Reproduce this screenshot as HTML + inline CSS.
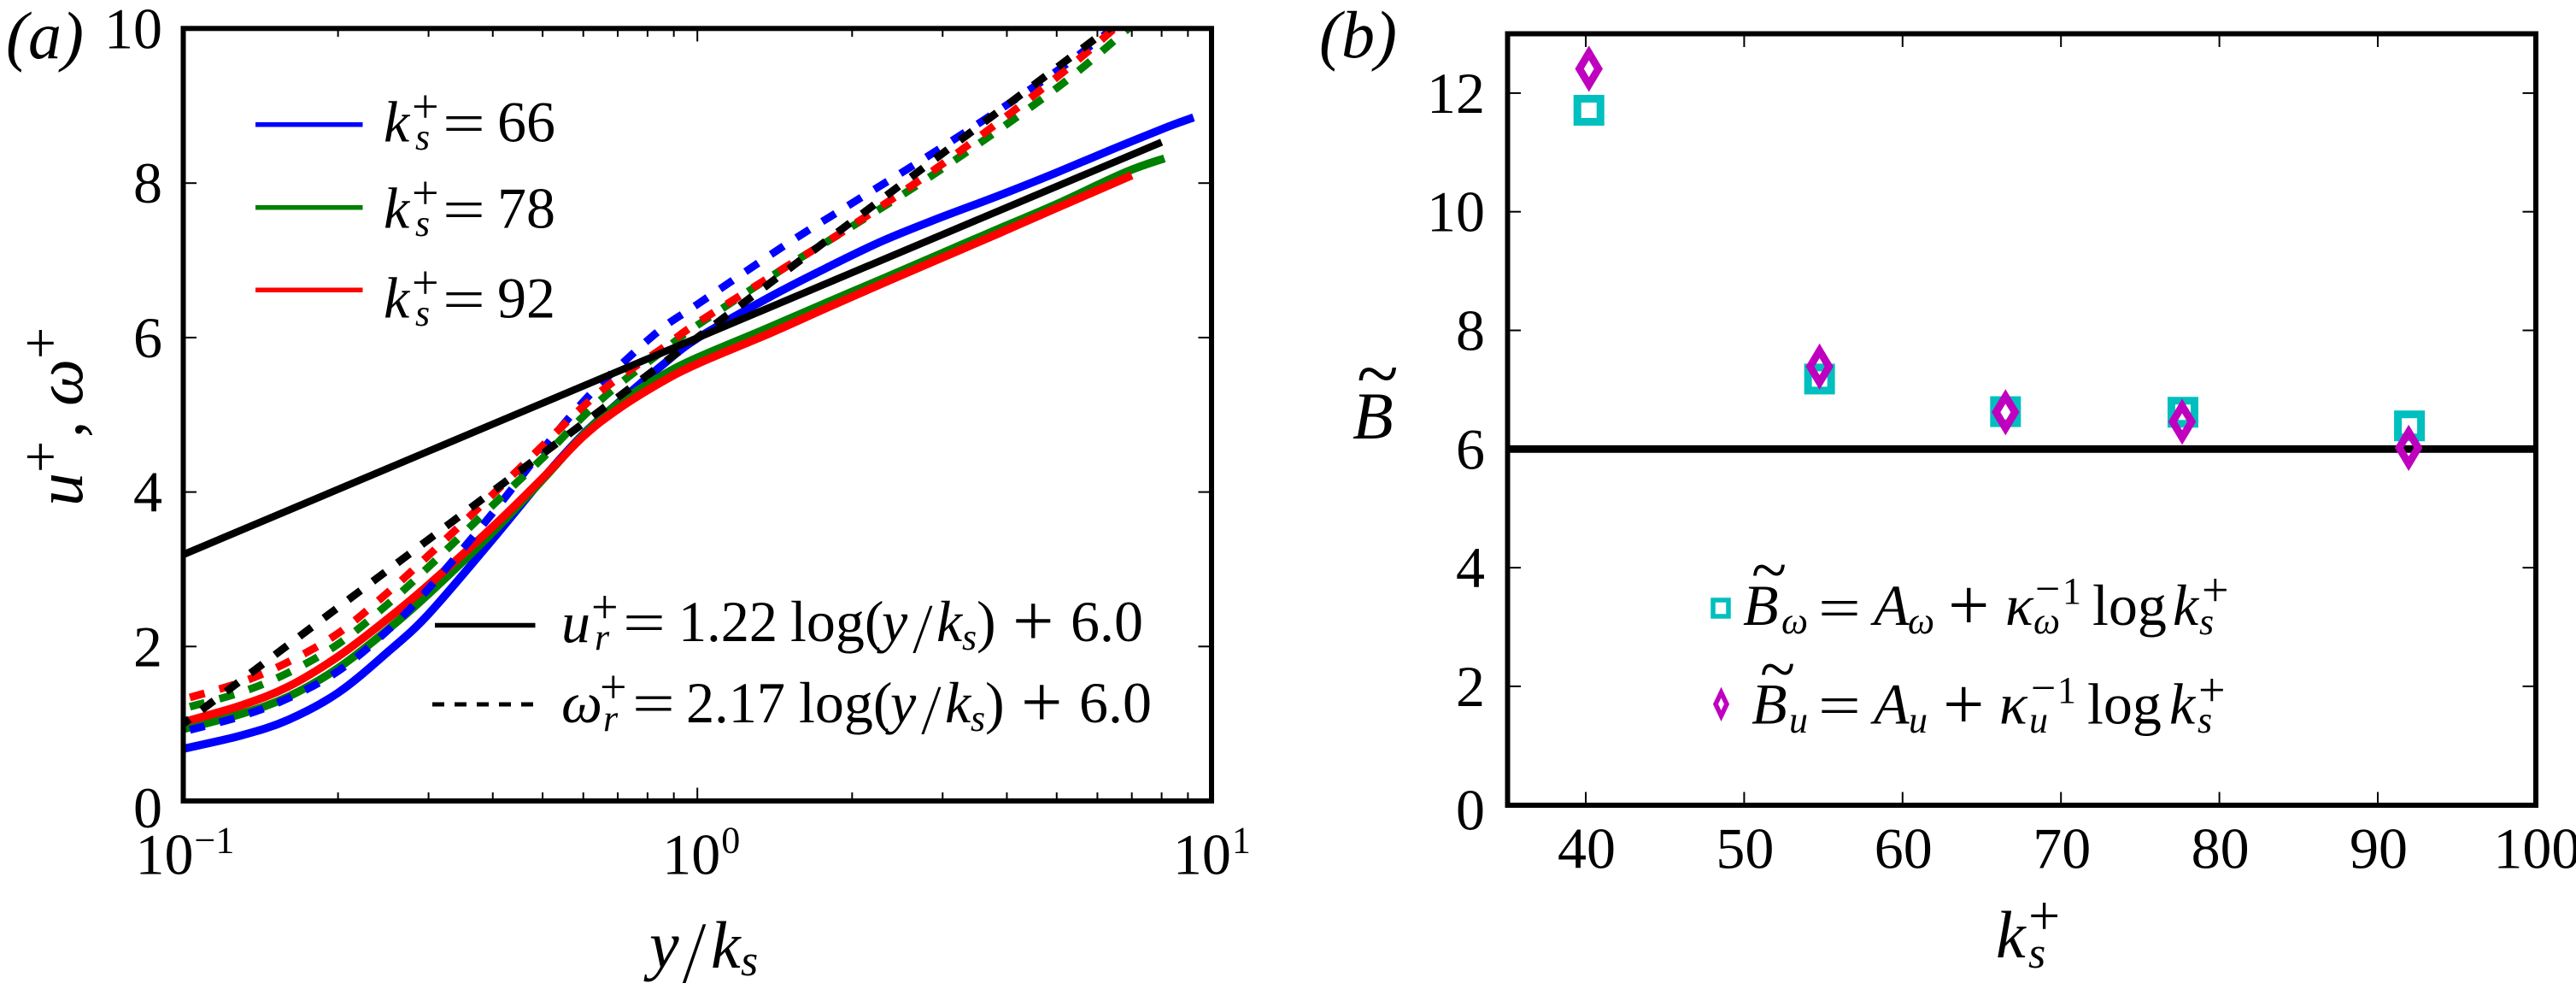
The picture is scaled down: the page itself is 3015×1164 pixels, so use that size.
<!DOCTYPE html>
<html lang="en">
<head>
<meta charset="utf-8">
<title>Velocity and vorticity log-law profiles</title>
<style>
html,body{margin:0;padding:0;background:#fff;}
svg{display:block;font-family:"Liberation Serif","DejaVu Serif",serif;fill:#000;}
.i{font-style:italic;}
</style>
</head>
<body>
<svg id="fig" xmlns="http://www.w3.org/2000/svg" width="3015" height="1164" viewBox="0 0 3015 1164">
<defs>
<clipPath id="clip-a"><rect x="214" y="33" width="1204" height="904"/></clipPath>
</defs>
<rect width="3015" height="1164" fill="#fff"/>

<text class="i" x="7" y="68" font-size="78">(a)</text>
<text class="i" x="1544" y="67" font-size="78">(b)</text>

<g id="series-a" clip-path="url(#clip-a)"></g>
<g id="ticks-a"></g>
<rect x="214.5" y="33.3" width="1203.5" height="903.7" fill="none" stroke="#000" stroke-width="6"/>

<g id="ticks-b"></g>
<g id="series-b"></g>
<rect x="1764.5" y="39.5" width="1203.5" height="902.5" fill="none" stroke="#000" stroke-width="6"/>

<g>
<text class="i" font-size="78" transform="translate(96,592) rotate(-90)">u</text>
<text font-size="66" transform="translate(69,553) rotate(-90)">+</text>
<text font-size="78" transform="translate(96,512) rotate(-90)">,</text>
<text class="i" font-size="78" transform="translate(96,475) rotate(-90)">ω</text>
<text font-size="66" transform="translate(69,420) rotate(-90)">+</text>
</g>
<g>
<text class="i" font-size="78" x="760" y="1132">y</text>
<text class="i" font-size="78" transform="translate(802,1149) scale(0.88,1.32)">/</text>
<text class="i" font-size="78" x="832" y="1132">k</text>
<text class="i" font-size="52" x="867" y="1141">s</text>
</g>
<g>
<text class="i" font-size="78" x="1583" y="513">B</text>
<text font-size="90" x="1588" y="467">~</text>
</g>
<g>
<text class="i" font-size="78" x="2336" y="1120">k</text>
<text class="i" font-size="52" x="2374" y="1132">s</text>
<text font-size="66" x="2374" y="1093">+</text>
</g>

<g>
<g>
<line x1="299" x2="424.5" y1="145.7" y2="145.7" stroke="#00f" stroke-width="5.5"/>
<text class="i" font-size="68" x="449" y="165.5">k</text><text class="i" font-size="44" x="486" y="175">s</text><text font-size="56" x="482" y="143.5">+</text>
<text font-size="68" transform="translate(518,167) scale(1.3,1)">=</text><text font-size="68" x="582" y="165.5">66</text>
</g>
<g>
<line x1="299" x2="424.5" y1="242.7" y2="242.7" stroke="#008000" stroke-width="5.5"/>
<g transform="translate(0,101)"><text class="i" font-size="68" x="449" y="165.5">k</text><text class="i" font-size="44" x="486" y="175">s</text><text font-size="56" x="482" y="143.5">+</text>
<text font-size="68" transform="translate(518,167) scale(1.3,1)">=</text><text font-size="68" x="582" y="165.5">78</text></g>
</g>
<g>
<line x1="299" x2="424.5" y1="339.3" y2="339.3" stroke="#f00" stroke-width="5.5"/>
<g transform="translate(0,206)"><text class="i" font-size="68" x="449" y="165.5">k</text><text class="i" font-size="44" x="486" y="175">s</text><text font-size="56" x="482" y="143.5">+</text>
<text font-size="68" transform="translate(518,167) scale(1.3,1)">=</text><text font-size="68" x="582" y="165.5">92</text></g>
</g>
</g>

<g>
<g>
<line x1="509" x2="626.5" y1="731.5" y2="731.5" stroke="#000" stroke-width="5.5"/>
<text class="i" font-size="68" x="657" y="751">u</text><text font-size="56" x="692" y="729">+</text><text class="i" font-size="44" x="696" y="760">r</text>
<text font-size="68" transform="translate(729,751) scale(1.3,1)">=</text>
<text font-size="68" x="794" y="750" textLength="116" lengthAdjust="spacingAndGlyphs">1.22</text><text font-size="68" x="925" y="750">log(</text>
<text class="i" font-size="68" x="1032" y="750">y</text><text class="i" font-size="68" transform="translate(1071,763) scale(0.85,1.22)">/</text><text class="i" font-size="68" x="1096" y="750">k</text><text class="i" font-size="44" x="1126" y="760">s</text>
<text font-size="68" x="1143" y="750">)</text><text font-size="86" x="1185" y="755">+</text><text font-size="68" x="1253" y="750">6.0</text>
</g>
<g>
<line x1="506" x2="624.5" y1="824" y2="824" stroke="#000" stroke-width="5" stroke-dasharray="14 12"/>
<text class="i" font-size="68" x="657" y="845">ω</text><text font-size="56" x="702" y="822.5">+</text><text class="i" font-size="44" x="706" y="855">r</text>
<text font-size="68" transform="translate(740,845.5) scale(1.3,1)">=</text>
<text font-size="68" x="803" y="845" textLength="116" lengthAdjust="spacingAndGlyphs">2.17</text><text font-size="68" x="935" y="845">log(</text>
<text class="i" font-size="68" x="1042" y="845">y</text><text class="i" font-size="68" transform="translate(1081,858) scale(0.85,1.22)">/</text><text class="i" font-size="68" x="1106" y="845">k</text><text class="i" font-size="44" x="1136" y="855">s</text>
<text font-size="68" x="1153" y="845">)</text><text font-size="86" x="1195" y="850">+</text><text font-size="68" x="1263" y="845">6.0</text>
</g>
</g>

<g>
<g>
<rect x="2005" y="702" width="18" height="19" fill="none" stroke="#00bfbf" stroke-width="5.5"/>
<text class="i" font-size="68" x="2040" y="731">B</text><text font-size="76" x="2050" y="692">~</text><text class="i" font-size="44" x="2085" y="741">ω</text>
<text font-size="68" transform="translate(2128,734) scale(1.3,1)">=</text>
<text class="i" font-size="68" x="2193" y="731">A</text><text class="i" font-size="44" x="2233" y="741">ω</text>
<text font-size="86" x="2280" y="736.5">+</text>
<text class="i" font-size="68" x="2347" y="731">κ</text><text font-size="52" x="2382" y="706">−</text><text font-size="44" x="2414" y="706">1</text><text class="i" font-size="44" x="2380" y="741">ω</text>
<text font-size="68" x="2449" y="731">log</text><text class="i" font-size="68" x="2543" y="731">k</text><text class="i" font-size="44" x="2574" y="742">s</text><text font-size="56" x="2577" y="709">+</text>
</g>
<g>
<path d="M2014.5 810 L2021 823.7 L2014.5 837.5 L2008 823.7 Z" fill="none" stroke="#bf00bf" stroke-width="5.5" stroke-miterlimit="10"/>
<text class="i" font-size="68" x="2050" y="846.4">B</text><text font-size="76" x="2060" y="808">~</text><text class="i" font-size="44" x="2094" y="857">u</text>
<text font-size="68" transform="translate(2128,848) scale(1.3,1)">=</text>
<text class="i" font-size="68" x="2193" y="846.4">A</text><text class="i" font-size="44" x="2234" y="857">u</text>
<text font-size="86" x="2274" y="852.5">+</text>
<text class="i" font-size="68" x="2340" y="846.4">κ</text><text font-size="52" x="2377" y="822">−</text><text font-size="44" x="2408" y="822">1</text><text class="i" font-size="44" x="2375" y="857">u</text>
<text font-size="68" x="2443" y="846.4">log</text><text class="i" font-size="68" x="2539" y="846.4">k</text><text class="i" font-size="44" x="2572" y="857">s</text><text font-size="56" x="2573" y="826">+</text>
</g>
</g>

<script>
// ---- panel (a) data ----
const solidBlueX = [0.1,0.13,0.16,0.2,0.25,0.3,0.4,0.5,0.6,0.7,0.85,1,1.378,1.78,2.29,2.96,3.83,4.93,6.37,8.23,9.23];
const solidBlueY = [0.675,0.85,1.05,1.4,1.93,2.42,3.39,4.17,4.75,5.15,5.63,5.99,6.52,6.9,7.25,7.55,7.83,8.12,8.43,8.73,8.85];
const solidGreenX = [0.1,0.13,0.16,0.2,0.25,0.3,0.4,0.5,0.6,0.7,0.85,1,1.378,1.78,2.29,2.96,3.83,4.93,6.8,8.1];
const solidGreenY = [0.93,1.13,1.35,1.72,2.22,2.68,3.48,4.16,4.74,5.14,5.5,5.74,6.13,6.45,6.76,7.08,7.4,7.71,8.14,8.32];
const solidRedX = [0.1,0.13,0.16,0.2,0.25,0.3,0.4,0.5,0.6,0.7,0.85,1,1.378,1.78,2.29,2.96,3.83,4.93,7];
const solidRedY = [1.02,1.24,1.48,1.87,2.36,2.8,3.55,4.18,4.72,5.07,5.42,5.66,6.05,6.38,6.7,7.02,7.34,7.66,8.1];
const dashedX = [0.103,0.13,0.16,0.2,0.25,0.3,0.4,0.5,0.6,0.7,0.85,1,1.5,2,3,5,7];
const dashedBlueY = [0.92,1.1,1.33,1.68,2.21,2.75,3.73,4.55,5.17,5.61,6.11,6.43,7.22,7.74,8.47,9.45,10.2];
const dashedGreenY = [1.22,1.41,1.66,2.03,2.55,3.03,3.83,4.44,4.98,5.38,5.81,6.16,6.93,7.44,8.19,9.23,10.04];
const dashedRedY = [1.34,1.54,1.8,2.17,2.7,3.18,3.97,4.6,5.11,5.47,5.85,6.19,6.93,7.45,8.25,9.37,10.2];
const lawUX = [0.1,8.0];
const lawUY = [3.19,8.53];
const lawOmegaX = [0.1,6.4];
const lawOmegaY = [1.0,10.03];
const xTickExponentsA = [-1,0,1];
const xMinorFactors = [2,3,4,5,6,7,8,9];
const yTicksA = [0,2,4,6,8,10];
// ---- panel (b) data ----
const roughness = [40.2,54.76,66.5,77.7,92];
const bOmega = [11.71,7.18,6.63,6.62,6.39];
const roughnessU = [40.2,54.76,66.5,77.65,91.95];
const bU = [12.41,7.39,6.62,6.46,6.02];
const refB = [6];
const xTicksB = [40,50,60,70,80,90,100];
const yTicksB = [0,2,4,6,8,10,12];

const NS = 'http://www.w3.org/2000/svg';
const xA = v => 214.5 + 601.7 * (Math.log10(v) + 1);
const yA = v => 937 - 90.35 * v;
const xB = v => 1856 + 18.54 * (v - 40);
const yB = v => 941.7 - 69.4 * v;

function mk(tag, attrs, parent) {
  const el = document.createElementNS(NS, tag);
  for (const k in attrs) el.setAttribute(k, attrs[k]);
  parent.appendChild(el);
  return el;
}
function smooth(xs, ys) {
  const p = xs.map((x, i) => [xA(x), yA(ys[i])]);
  if (p.length === 2) return 'M' + p[0] + 'L' + p[1];
  let d = 'M' + p[0][0].toFixed(2) + ' ' + p[0][1].toFixed(2);
  for (let i = 0; i < p.length - 1; i++) {
    const a = p[Math.max(i - 1, 0)], b = p[i], c = p[i + 1], e = p[Math.min(i + 2, p.length - 1)];
    const c1x = b[0] + (c[0] - a[0]) / 6, c1y = b[1] + (c[1] - a[1]) / 6;
    const c2x = c[0] - (e[0] - b[0]) / 6, c2y = c[1] - (e[1] - b[1]) / 6;
    d += 'C' + [c1x, c1y, c2x, c2y, c[0], c[1]].map(n => n.toFixed(2)).join(' ');
  }
  return d;
}

const seriesA = document.getElementById('series-a');
const ticksA = document.getElementById('ticks-a');
const seriesB = document.getElementById('series-b');
const ticksB = document.getElementById('ticks-b');

function curve(xs, ys, color, width, dash, offset, name) {
  const el = mk('path', {d: smooth(xs, ys), fill: 'none', stroke: color, 'stroke-width': width, 'stroke-linejoin': 'round'}, seriesA);
  if (dash) {
    el.setAttribute('stroke-dasharray', dash);
    el.setAttribute('stroke-dashoffset', offset);
  }
  
  
}
curve(solidBlueX, solidBlueY, '#0000ff', 9.5, '', 0, 'velocity-k66-line');
curve(solidGreenX, solidGreenY, '#008000', 9.5, '', 0, 'velocity-k78-line');
curve(solidRedX, solidRedY, '#ff0000', 9.5, '', 0, 'velocity-k92-line');
curve(dashedX, dashedBlueY, '#0000ff', 9, '18 17.8', 0, 'vorticity-k66-line');
curve(dashedX, dashedGreenY, '#008000', 9, '18 17.8', 0, 'vorticity-k78-line');
curve(dashedX, dashedRedY, '#ff0000', 9, '18 17.8', 0, 'vorticity-k92-line');
curve(lawOmegaX, lawOmegaY, '#000000', 9, '18 17.8', 9, 'vorticity-log-law-line');
curve(lawUX, lawUY, '#000000', 8.5, '', 0, 'velocity-log-law-line');

function tick(parent, x1, y1, x2, y2, name) {
  const el = mk('line', {x1: x1, y1: y1, x2: x2, y2: y2, stroke: '#000', 'stroke-width': 2}, parent);
  
  
}

// panel a: y ticks
yTicksA.forEach(v => {
  const y = yA(v);
  if (v > 0 && v < 10) {
    tick(ticksA, 214.5, y, 230, y, 'y-tick-a');
    tick(ticksA, 1402.5, y, 1418, y, 'y-tick-a-right');
  }
  const t = mk('text', {x: 190, y: y + (v === 0 ? 31 : 23), 'font-size': 68, 'text-anchor': 'end'}, ticksA);
  t.textContent = String(v);
  
  
});
// panel a: x ticks
xTickExponentsA.forEach(e => {
  const base = Math.pow(10, e), x = xA(base);
  if (e > -1 && e < 1 + 1 && x < 1417 && x > 215) {
    tick(ticksA, x, 33, x, 48.5, 'x-major-tick-a');
    tick(ticksA, x, 937, x, 921.5, 'x-major-tick-a-bottom');
  }
  if (e < 1) {
    xMinorFactors.forEach(f => {
      const mx = xA(base * f);
      tick(ticksA, mx, 33, mx, 43, 'x-minor-tick-a');
      tick(ticksA, mx, 937, mx, 927, 'x-minor-tick-a-bottom');
    });
  }
  const lx = x + (e < 0 ? -56 : e === 0 ? -41 : -45);
  const t = mk('text', {x: lx, y: 1022.5, 'font-size': 68}, ticksA);
  t.textContent = '10';
  
  
  const s = mk('text', {x: lx + 69, y: 997.5, 'font-size': 44}, ticksA);
  s.textContent = String(e).replace('-', '−');
  
  
});

// panel b: ticks
yTicksB.forEach(v => {
  const y = yB(v);
  if (v > 0) {
    tick(ticksB, 1764.5, y, 1780, y, 'y-tick-b');
    tick(ticksB, 2952.5, y, 2968, y, 'y-tick-b-right');
  }
  const t = mk('text', {x: 1738, y: y + (v === 0 ? 29 : 23), 'font-size': 68, 'text-anchor': 'end'}, ticksB);
  t.textContent = String(v);
  
  
});
xTicksB.forEach(v => {
  const x = xB(v);
  if (v < 100) {
    tick(ticksB, x, 39.5, x, 55, 'x-tick-b');
    tick(ticksB, x, 942, x, 926.5, 'x-tick-b-bottom');
  }
  const t = mk('text', {x: x + 1, y: 1015.5, 'font-size': 68, 'text-anchor': 'middle'}, ticksB);
  t.textContent = String(v);
  
  
});

// panel b: reference line
refB.forEach(v => {
  const el = mk('line', {x1: xB(35), x2: xB(100), y1: yB(v), y2: yB(v), stroke: '#000', 'stroke-width': 8.8}, seriesB);
  
  
});
// panel b: square markers
roughness.forEach((k, i) => {
  const x = xB(k), y = yB(bOmega[i]);
  const el = mk('rect', {x: x - 13.5, y: y - 13.5, width: 27, height: 27, fill: 'none', stroke: '#00bfbf', 'stroke-width': 9}, seriesB);
  
  
});
// panel b: diamond markers
roughnessU.forEach((k, i) => {
  const x = xB(k), y = yB(bU[i]);
  const d = 'M' + x + ' ' + (y - 18.5) + 'L' + (x + 11.1) + ' ' + y + 'L' + x + ' ' + (y + 18.5) + 'L' + (x - 11.1) + ' ' + y + 'Z';
  const el = mk('path', {d: d, fill: 'none', stroke: '#bf00bf', 'stroke-width': 8.8, 'stroke-miterlimit': 10}, seriesB);
  
  
});
</script>
</svg>
</body>
</html>
